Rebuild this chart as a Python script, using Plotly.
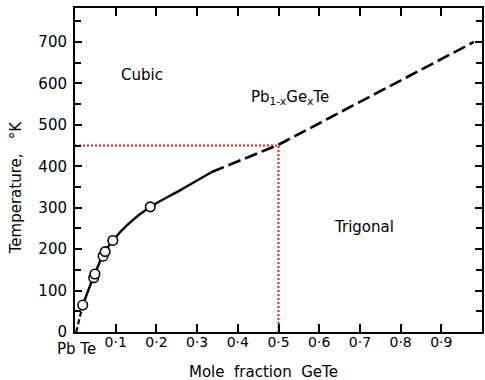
import plotly.graph_objects as go

# measured points (open circles)
pts_x = [0.019, 0.046, 0.049, 0.069, 0.074, 0.093, 0.185]
pts_y = [65, 131, 140, 183, 194, 221, 302]

# solid fitted curve
solid_x = [0.019, 0.046, 0.070, 0.093, 0.130, 0.185, 0.260, 0.336]
solid_y = [65, 134, 188, 221, 260, 302, 343, 386]

# dashed extrapolations
dash_lo_x = [0.003, 0.019]
dash_lo_y = [0, 65]
dash_hi_x = [0.336, 0.420, 0.500, 0.980]
dash_hi_y = [386, 420, 452, 700]

# red dotted guide lines
red_x = [0.0, 0.5, 0.5]
red_y = [450, 450, 0]

x_tickvals = [0.1, 0.2, 0.3, 0.4, 0.5, 0.6, 0.7, 0.8, 0.9]
x_ticktext = ["0·1", "0·2", "0·3", "0·4", "0·5", "0·6", "0·7", "0·8", "0·9"]
y_tickvals = [0, 100, 200, 300, 400, 500, 600, 700]

FONT = "DejaVu Sans"
PW = 409.0  # plot width in px
PH = 324.0  # plot height in px

fig = go.Figure()
fig.add_trace(go.Scatter(x=red_x, y=red_y, mode="lines",
                         line=dict(color="#ff1010", width=2, dash="2px,2px")))
fig.add_trace(go.Scatter(x=dash_lo_x, y=dash_lo_y, mode="lines",
                         line=dict(color="black", width=2.2, dash="5px,3px")))
fig.add_trace(go.Scatter(x=solid_x, y=solid_y, mode="lines",
                         line=dict(color="black", width=2.4, shape="spline", smoothing=0.8)))
fig.add_trace(go.Scatter(x=dash_hi_x, y=dash_hi_y, mode="lines",
                         line=dict(color="black", width=2.6, dash="13px,5px")))
fig.add_trace(go.Scatter(x=pts_x, y=pts_y, mode="markers",
                         marker=dict(symbol="circle", size=9.5, color="white",
                                     line=dict(color="black", width=1.6))))

def ann(text, px, py, size=15, angle=0):
    return dict(text=text, x=(px - 75) / PW, y=(332 - py) / PH, xref="paper", yref="paper",
                xanchor="center", yanchor="middle", showarrow=False, textangle=angle,
                font=dict(family=FONT, size=size))

fig.update_layout(
    width=485, height=380,
    margin=dict(l=75, r=1, t=8, b=48),
    plot_bgcolor="white", paper_bgcolor="white",
    showlegend=False,
    font=dict(family=FONT, color="black", size=15),
    xaxis=dict(range=[0, 1.0], tickvals=x_tickvals, ticktext=x_ticktext,
               ticks="inside", ticklen=8, tickwidth=1.5, tickcolor="black",
               showline=True, linecolor="black", linewidth=2, mirror="ticks",
               showgrid=False, zeroline=False,
               tickfont=dict(family=FONT, size=14), ticklabelstandoff=-4),
    yaxis=dict(range=[0, 782], tickvals=y_tickvals,
               ticks="inside", ticklen=7, tickwidth=1.5, tickcolor="black",
               minor=dict(dtick=50, tick0=0, ticks="inside", ticklen=6, tickwidth=1.5, tickcolor="black"),
               showline=True, linecolor="black", linewidth=2, mirror="ticks",
               showgrid=False, zeroline=False,
               tickfont=dict(family=FONT, size=15), ticklabelstandoff=3),
    annotations=[
        ann("Cubic", 142, 75),
        ann("Pb<sub>1-x</sub>Ge<sub>x</sub>Te", 291, 97),
        ann("Trigonal", 365, 227),
        ann("Pb Te", 77, 349),
        ann("Mole\u00a0 fraction\u00a0 GeTe", 264, 372),
        ann("Temperature,\u00a0\u00a0 °K", 16, 187, size=15, angle=-90),
    ],
)

fig.write_html("out.html")
